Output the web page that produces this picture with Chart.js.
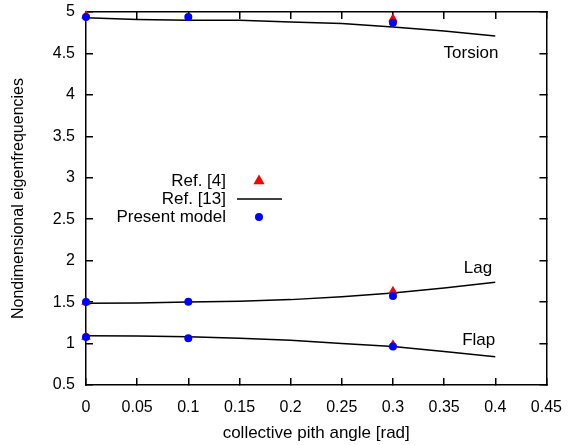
<!DOCTYPE html>
<html>
<head>
<meta charset="utf-8">
<script src="https://cdn.jsdelivr.net/npm/chart.js@4/dist/chart.umd.min.js"></script>
<style>
  body { margin: 0; background: #fff; }
  #wrap { width: 582px; height: 445px; }
</style>
</head>
<body>
<div id="wrap"><canvas id="c" width="582" height="445"></canvas></div>
<script>
// eigenfrequencies vs collective pitch, three modes

const xTicks = [0, 0.05, 0.1, 0.15, 0.2, 0.25, 0.3, 0.35, 0.4, 0.45]
const yTicks = [0.5, 1, 1.5, 2, 2.5, 3, 3.5, 4, 4.5, 5]

// Ref. [13] curves
const pitch = [0, 0.05, 0.1, 0.15, 0.2, 0.25, 0.3, 0.35, 0.4]
const torsionRef13 = [4.93, 4.91, 4.90, 4.90, 4.88, 4.86, 4.82, 4.77, 4.71]
const lagRef13 = [1.486, 1.49, 1.50, 1.51, 1.53, 1.565, 1.61, 1.67, 1.74]
const flapRef13 = [1.095, 1.09, 1.083, 1.065, 1.04, 1.00, 0.963, 0.905, 0.842]

// Ref. [4] points
const ref4Pitch = [0, 0.3]
const torsionRef4 = [4.955, 4.92]
const lagRef4 = [1.50, 1.63]
const flapRef4 = [1.08, 0.985]

// present model points
const modelPitch = [0, 0.1, 0.3]
const torsionModel = [4.94, 4.94, 4.87]
const lagModel = [1.50, 1.505, 1.575]
const flapModel = [1.08, 1.065, 0.963]

const modeNames = ['Torsion', 'Lag', 'Flap']
const legendNames = ['Ref. [4]', 'Ref. [13]', 'Present model']

const FONT = 'Liberation Sans, Arial, Helvetica, sans-serif'
const RED = '#ff0000'
const BLUE = '#0000ff'

const pts = (xs, ys) => xs.map((x, i) => ({ x, y: ys[i] }))

const curve = (ys) => ({
  data: pts(pitch, ys),
  borderColor: '#000',
  borderWidth: 1.5,
  pointRadius: 0,
  tension: 0,
  order: 3,
})

const marks = (xs, ys, style, color, r, order) => ({
  data: pts(xs, ys),
  showLine: false,
  pointStyle: style,
  pointRadius: r,
  pointBorderWidth: 0,
  pointBackgroundColor: color,
  borderColor: color,
  clip: false,
  order,
})

const datasets = [
  curve(torsionRef13), curve(lagRef13), curve(flapRef13),
  marks(ref4Pitch, torsionRef4, 'triangle', RED, 5.5, 2),
  marks(ref4Pitch, lagRef4, 'triangle', RED, 5.5, 2),
  marks(ref4Pitch, flapRef4, 'triangle', RED, 5.5, 2),
  marks(modelPitch, torsionModel, 'circle', BLUE, 4, 1),
  marks(modelPitch, lagModel, 'circle', BLUE, 4, 1),
  marks(modelPitch, flapModel, 'circle', BLUE, 4, 1),
]

// mode names at the end of each curve, plus the key
function drawNotes(chart) {
  const ctx = chart.ctx
  const x = chart.scales.x
  const y = chart.scales.y
  ctx.save()
  ctx.fillStyle = '#000'
  ctx.font = '17px ' + FONT
  ctx.textAlign = 'right'
  ctx.textBaseline = 'middle'
  const spots = [[0.403, 4.5], [0.397, 1.91], [0.4, 1.04]]
  modeNames.forEach((n, i) => {
    ctx.fillText(n, x.getPixelForValue(spots[i][0]), y.getPixelForValue(spots[i][1]))
  })

  const tx = 226, sx = 259
  const rows = [181, 199, 217]
  legendNames.forEach((n, i) => ctx.fillText(n, tx, rows[i]))

  const tri = 6.5
  ctx.fillStyle = RED
  ctx.beginPath()
  ctx.moveTo(sx, rows[0] - tri)
  ctx.lineTo(sx + tri * 0.866, rows[0] + tri / 2)
  ctx.lineTo(sx - tri * 0.866, rows[0] + tri / 2)
  ctx.closePath()
  ctx.fill()

  ctx.fillStyle = '#000'
  ctx.fillRect(237, rows[1] - 0.75, 45, 1.5)

  ctx.fillStyle = BLUE
  ctx.beginPath()
  ctx.arc(sx, rows[2], 4, 0, Math.PI * 2)
  ctx.fill()
  ctx.restore()
}

const notesPlugin = {
  id: 'gnuplotNotes',
  afterDraw(chart) { drawNotes(chart) },
}

const fmt = v => String(+Number(v).toFixed(2))

// tick marks point into the plot (negative length), on all four sides
const frameGrid = () => ({
  display: true,
  drawOnChartArea: false,
  drawTicks: true,
  tickLength: -7,
  color: '#000',
  tickColor: '#000',
  lineWidth: 1.5,
  tickWidth: 1.5,
})
const frameBorder = () => ({ display: true, color: '#000', width: 1.5 })
const tickFont = { family: FONT, size: 16 }

new Chart(document.getElementById('c'), {
  type: 'line',
  data: { datasets },
  plugins: [notesPlugin],
  options: {
    responsive: false,
    animation: false,
    layout: { padding: { top: 12, right: 18, left: 0, bottom: 0 } },
    plugins: { legend: { display: false }, tooltip: { enabled: false } },
    scales: {
      x: {
        type: 'linear',
        position: 'bottom',
        min: 0,
        max: 0.45,
        afterBuildTicks: s => { s.ticks = xTicks.map(value => ({ value })) },
        afterFit: s => { s.height = 60 },
        grid: frameGrid(),
        border: frameBorder(),
        ticks: { color: '#000', font: tickFont, padding: 20, maxRotation: 0, callback: fmt },
        title: {
          display: true,
          text: 'collective pith angle [rad]',
          color: '#000',
          font: { family: FONT, size: 17 },
          padding: { top: 4, bottom: 1 },
        },
      },
      x2: {
        type: 'linear',
        position: 'top',
        min: 0,
        max: 0.45,
        afterBuildTicks: s => { s.ticks = xTicks.map(value => ({ value })) },
        afterFit: s => { s.height = 0 },
        grid: frameGrid(),
        border: frameBorder(),
        ticks: { display: false },
      },
      y: {
        type: 'linear',
        position: 'left',
        min: 0.5,
        max: 5,
        afterBuildTicks: s => { s.ticks = yTicks.map(value => ({ value })) },
        afterFit: s => { s.width = 86; s.paddingTop = 0; s.paddingBottom = 0 },
        grid: frameGrid(),
        border: frameBorder(),
        ticks: { color: '#000', font: tickFont, padding: 18, callback: fmt },
        title: {
          display: true,
          text: 'Nondimensional eigenfrequencies',
          color: '#000',
          font: { family: FONT, size: 16 },
          padding: { top: 9, bottom: 4 },
        },
      },
      y2: {
        type: 'linear',
        position: 'right',
        min: 0.5,
        max: 5,
        afterBuildTicks: s => { s.ticks = yTicks.map(value => ({ value })) },
        afterFit: s => { s.width = 0; s.paddingTop = 0; s.paddingBottom = 0 },
        grid: frameGrid(),
        border: frameBorder(),
        ticks: { display: false },
      },
    },
  },
})
</script>
</body>
</html>
